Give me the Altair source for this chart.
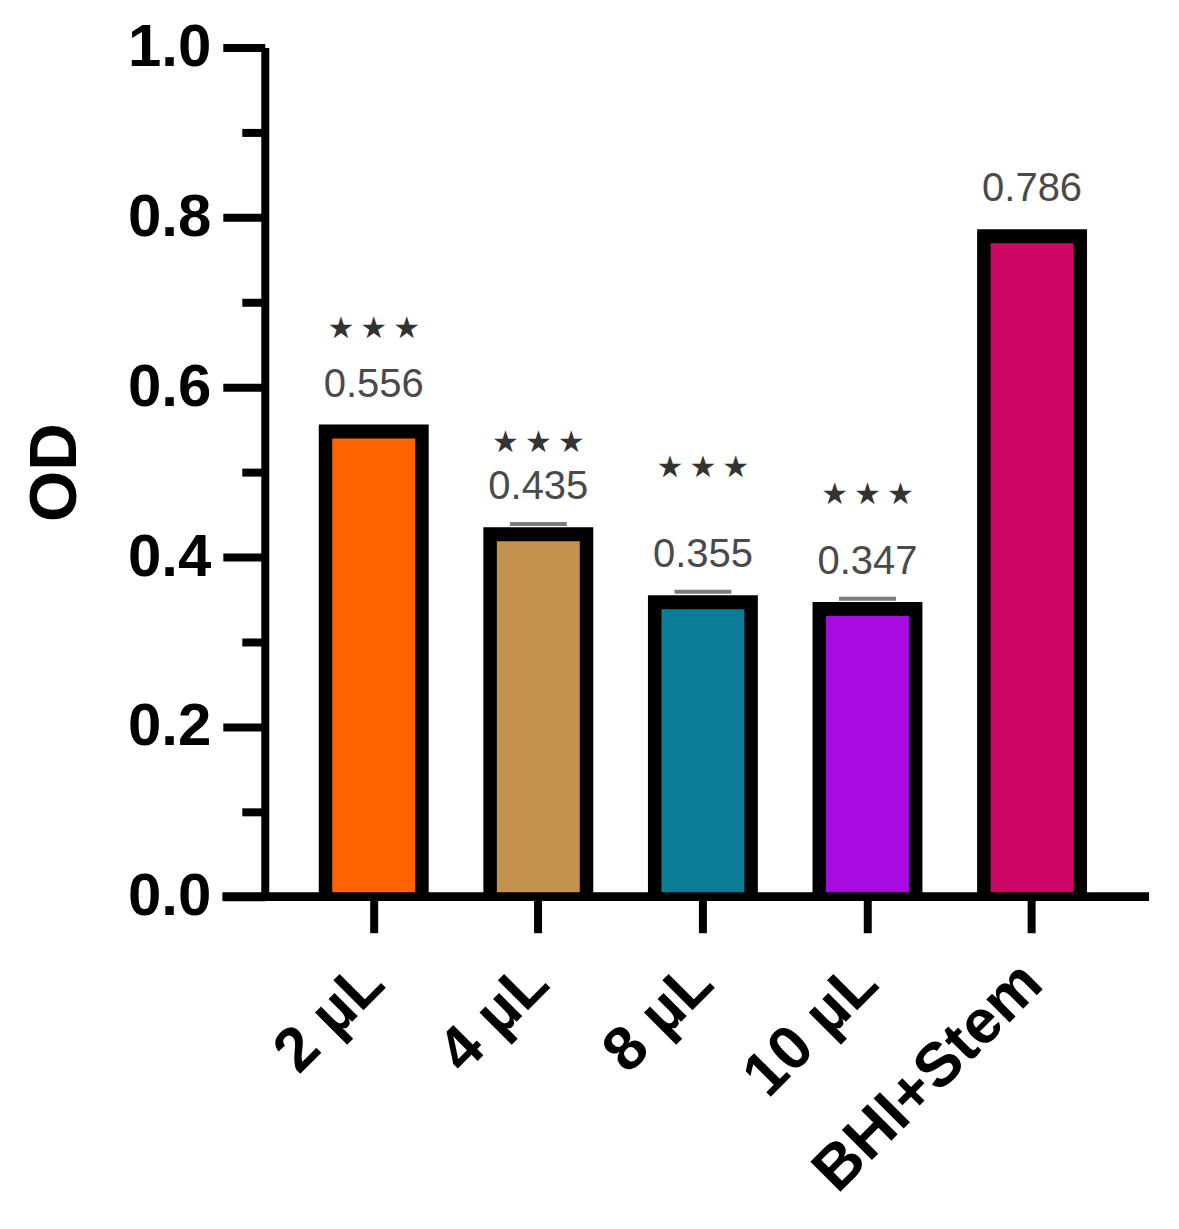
import altair as alt
import pandas as pd

# ---- data ----
categories = ["2 µL", "4 µL", "8 µL", "10 µL", "BHI+Stem"]
od_values = [0.556, 0.435, 0.355, 0.347, 0.786]
od_errors = [0.0, 0.004, 0.004, 0.004, 0.0]
value_labels = ["0.556", "0.435", "0.355", "0.347", "0.786"]
signif = ["***", "***", "***", "***", ""]
signif_heights = [0.669, 0.534, 0.505, 0.473, None]
bar_colors = ["#FF6200", "#C4914F", "#0B7D96", "#A80BE0", "#CE0766"]
major_ticks = [0.0, 0.2, 0.4, 0.6, 0.8, 1.0]
minor_ticks = [0.1, 0.3, 0.5, 0.7, 0.9]

W, H = 877, 850
BORDER = 14  # px black border drawn inside the bar

df = pd.DataFrame({
    "group": categories,
    "od": od_values,
    "err": od_errors,
    "label": value_labels,
})
df["inner"] = df["od"] - BORDER / H
df["cap"] = df["od"] + df["err"]

star_df = pd.DataFrame({"group": categories, "sig": signif, "sig_y": signif_heights})
star_df = star_df[star_df["sig"] != ""].copy()
star_df["sig_txt"] = star_df["sig"].apply(lambda s: "\u2009".join("★" * len(s)))

FONT = "Liberation Sans"

x_enc = alt.X(
    "group:N",
    sort=categories,
    scale=alt.Scale(paddingInner=0, paddingOuter=0.162),
    axis=alt.Axis(
        title=None,
        labelAngle=-45,
        labelAlign="right",
        labelBaseline="middle",
        labelFont=FONT,
        labelFontSize=62,
        labelFontWeight="bold",
        labelColor="black",
        labelPadding=40,
        labelLimit=500,
        labelOverlap=False,
        tickSize=36,
        tickWidth=8,
        tickColor="black",
        domain=False,
        grid=False,
    ),
)

y_scale = alt.Scale(domain=[0, 1], nice=False, zero=True)

black_bars = alt.Chart(df).mark_bar(color="black", size=110).encode(
    x=x_enc,
    y=alt.Y(
        "od:Q",
        scale=y_scale,
        axis=alt.Axis(
            orient="left",
            values=major_ticks,
            format=".1f",
            title="OD",
            titleFont=FONT,
            titleFontSize=66,
            titleFontWeight="bold",
            titleColor="black",
            titlePadding=38,
            labelFont=FONT,
            labelFontSize=60,
            labelFontWeight="bold",
            labelColor="black",
            labelPadding=12,
            labelOverlap=False,
            labelFlush=False,
            tickSize=42,
            tickWidth=8,
            tickColor="black",
            domainWidth=8,
            domainColor="black",
            grid=False,
        ),
    ),
)

color_bars = alt.Chart(df).mark_bar(size=83).encode(
    x=x_enc,
    y=alt.Y("inner:Q", scale=y_scale, axis=None),
    color=alt.Color("group:N", scale=alt.Scale(domain=categories, range=bar_colors), legend=None),
)

caps = alt.Chart(df[df["err"] > 0]).mark_tick(color="#444444", thickness=4, size=57).encode(
    x=x_enc,
    y=alt.Y(
        "cap:Q",
        scale=y_scale,
        axis=alt.Axis(
            orient="left",
            values=minor_ticks,
            labels=False,
            title=None,
            domain=False,
            tickSize=23,
            tickWidth=8,
            tickColor="black",
            grid=False,
        ),
    ),
)

value_text = alt.Chart(df).mark_text(
    font=FONT, fontSize=40, color="#4a4a4a", baseline="middle", dy=-40
).encode(
    x=x_enc,
    y=alt.Y("od:Q", scale=y_scale, axis=None),
    text="label:N",
)

star_text = alt.Chart(star_df).mark_text(
    font="DejaVu Sans", fontSize=30, color="#333333", baseline="middle"
).encode(
    x=x_enc,
    y=alt.Y("sig_y:Q", scale=y_scale, axis=None),
    text="sig_txt:N",
)

x_axis_line = alt.Chart(df).mark_rule(color="black", strokeWidth=8).encode(
    x=alt.value(-42), x2=alt.value(W + 8), y=alt.value(H)
)

chart = (
    alt.layer(black_bars, color_bars, caps, value_text, star_text, x_axis_line)
    .resolve_axis(y="independent")
    .properties(
        width=W,
        height=H,
        padding={"left": 257, "top": 39, "right": 30, "bottom": 310},
        autosize=alt.AutoSizeParams(type="none"),
        background="white",
    )
    .configure_view(strokeWidth=0)
)

chart.save("out.html", embed_options={"renderer": "svg", "actions": False})
